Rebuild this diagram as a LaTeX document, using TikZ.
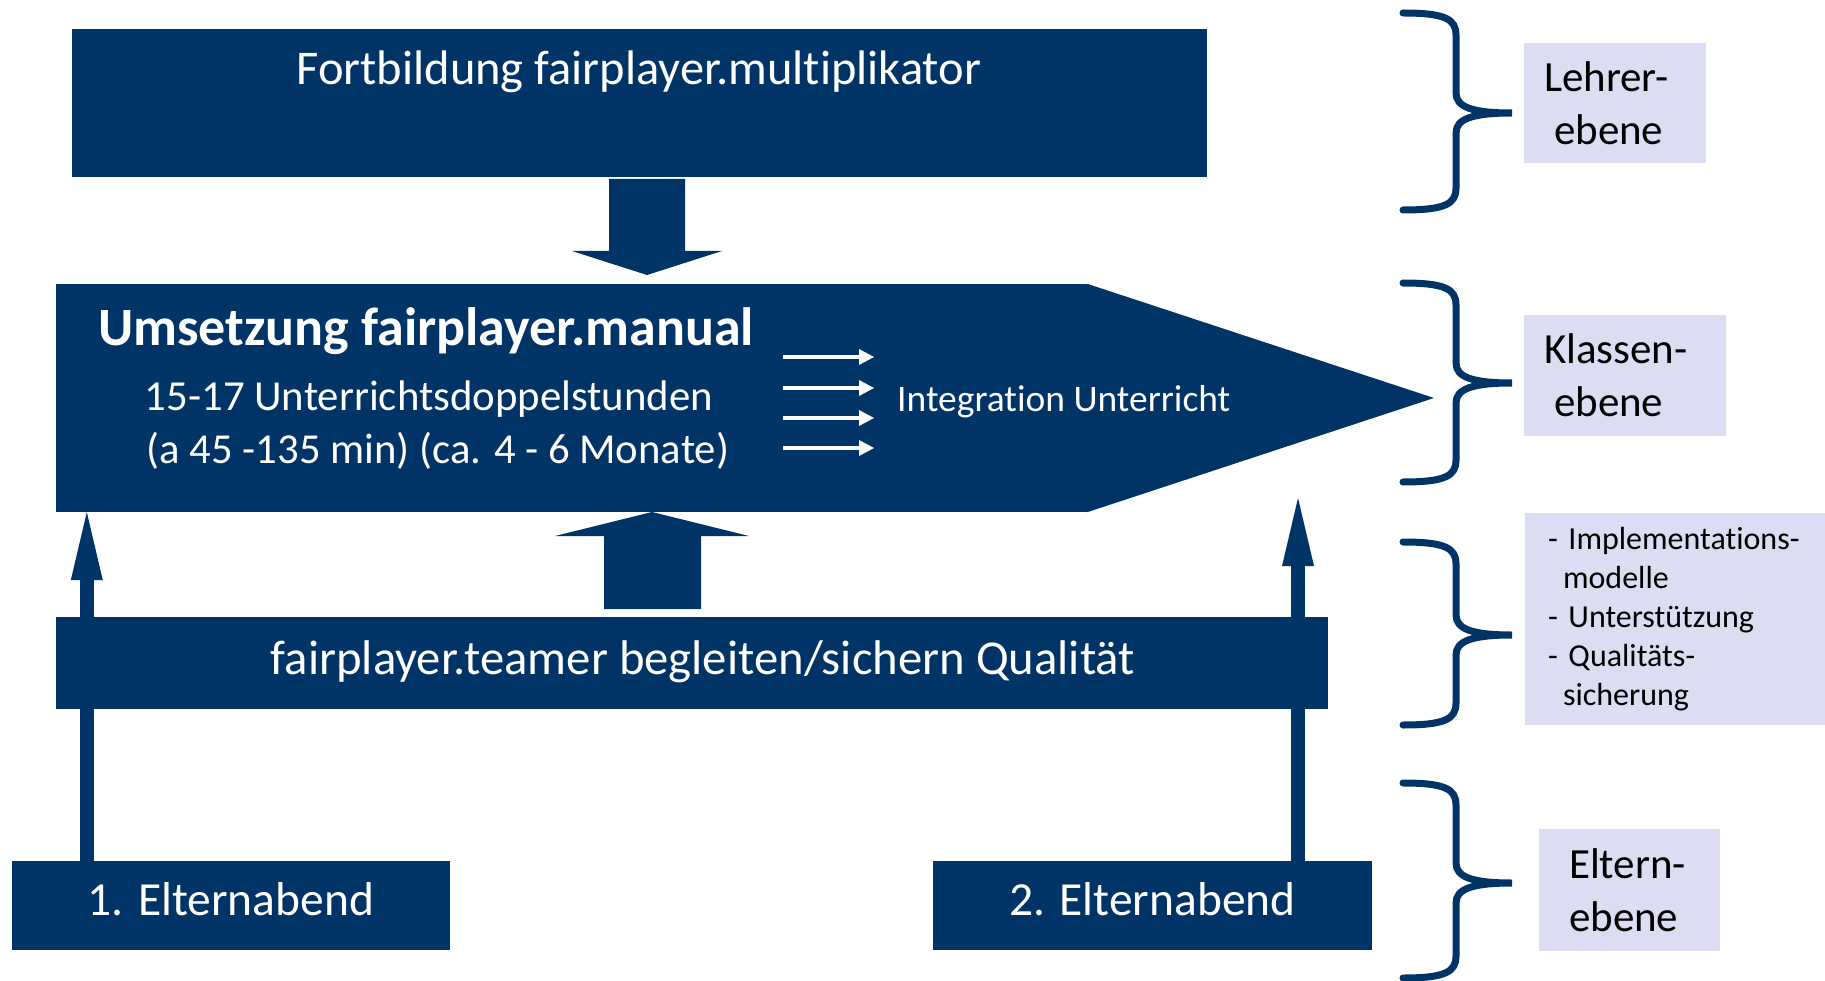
\documentclass[tikz,border=0pt]{standalone}
\usepackage{fontspec}
\setmainfont[Ligatures=NoCommon]{Carlito}
\usepackage{xcolor}
\usepackage{tikz}
\usetikzlibrary{arrows.meta,positioning}
\definecolor{navy}{RGB}{0,51,102}
\definecolor{lavender}{RGB}{220,220,242}

\tikzset{
  bluebox/.style={fill=navy, inner sep=0pt, text=white},
  whitetext/.style={text=white, inner sep=0pt},
  levelbox/.style={fill=lavender, inner sep=0pt, align=left,
    font=\fontsize{43}{53}\selectfont},
  thinarrow/.style={navy, line width=14pt,
    -{Triangle[width=32pt,length=68pt,line width=0pt]}},
  whitearrow/.style={white, line width=4pt,
    -{Triangle[width=16pt,length=15pt,line width=0pt]}},
  levelbrace/.style={navy, line width=7pt, line cap=round},
}

\begin{document}
\begin{tikzpicture}[x=1pt,y=-1pt]
\useasboundingbox (0,0) rectangle (1825,981);
% Fortbildung
\node[bluebox, minimum width=1135pt, minimum height=148pt] (fort) at (639.5,103) {};
\node[whitetext, font=\fontsize{48.5}{56}\selectfont] (fortlabel) at (639,71.5) {Fortbildung fairplayer.multiplikator};
% block arrow down
\fill[navy] (609,179) -- (685,179) -- (685,251) -- (722,251) -- (647,275) -- (572,251) -- (609,251) -- cycle;
% Elternabende and their arrows
\node[bluebox, minimum width=438pt, minimum height=89pt, text depth=12pt, font=\fontsize{47.5}{55}\selectfont] (eltern1) at (231,905.5) {1. Elternabend};
\node[bluebox, minimum width=439pt, minimum height=89pt, text depth=12pt, font=\fontsize{47.5}{55}\selectfont] (eltern2) at (1152.5,905.5) {2. Elternabend};
\coordinate (rtip) at (1298,498);
% Umsetzung
\node[bluebox, minimum width=1032pt, minimum height=228pt] (manual) at (572,398) {};
\fill[navy] ([xshift=-1pt]manual.north east) -- (1434,398) -- ([xshift=-1pt]manual.south east) -- cycle;
\draw[thinarrow] ([xshift=75pt]eltern1.north west) -- ([xshift=31pt]manual.south west);
\draw[thinarrow] (eltern2.north -| rtip) -- (rtip);
\node[whitetext, font=\bfseries\fontsize{54}{60}\selectfont] (manualtitle) at (426,331.5) {Umsetzung fairplayer.manual};
\node[whitetext, font=\fontsize{42.8}{50}\selectfont] (manualline1) at (429,399.5) {15-17 Unterrichtsdoppelstunden};
\node[whitetext, font=\fontsize{42.7}{50}\selectfont] (manualline2) at (438,451) {(a 45 -135 min) (ca. 4 - 6 Monate)};
\foreach \y in {357,388,418,448} {
    \draw[whitearrow] (783,\y) -- (874,\y);
}
\node[whitetext, font=\fontsize{37.5}{44}\selectfont, anchor=west] (integration) at (897,401.5) {Integration Unterricht};
% teamer
\fill[navy] (604,609) -- (701,609) -- (701,536) -- (749,536) -- (652,512) -- (555,536) -- (604,536) -- cycle;
\node[bluebox, minimum width=1272pt, minimum height=92pt] (teamer) at (692,663) {};
\node[whitetext, font=\fontsize{48.7}{56}\selectfont] (teamerlabel) at ([xshift=11pt,yshift=1pt]teamer.center) {fairplayer.teamer begleiten/sichern Qualität};
% Ebenen
\foreach \t/\m/\b in {13/113/210, 283/383/482, 542/635/725, 783/883/978} {
    \draw[levelbrace] (1403,\t) .. controls (1445,\t) and (1456,\t+6) .. (1456,\t+22)
      -- (1456,\m-20) .. controls (1456,\m-6) and (1472,\m) .. (1512,\m)
      .. controls (1472,\m) and (1456,\m+6) .. (1456,\m+20)
      -- (1456,\b-22) .. controls (1456,\b-6) and (1445,\b) .. (1403,\b);
}
\node[levelbox, minimum width=182pt, minimum height=120pt, text width=142pt] (lehrer) at (1615,103) {Lehrer-\\\hspace*{10pt}ebene};
\node[levelbox, minimum width=202pt, minimum height=121pt, text width=162pt] (klassen) at (1625,375.5) {Klassen-\\\hspace*{10pt}ebene};
\node[levelbox, minimum width=300pt, minimum height=212pt, text width=254pt, font=\fontsize{32}{39}\selectfont] (impl) at (1675,619)
  {- Implementations-\\\hspace*{15pt}modelle\\- Unterstützung\\- Qualitäts-\\\hspace*{15pt}sicherung};
\node[levelbox, minimum width=181pt, minimum height=122pt, text width=121pt] (elternebene) at (1629.5,890) {Eltern-\\ebene};
\end{tikzpicture}
\end{document}
